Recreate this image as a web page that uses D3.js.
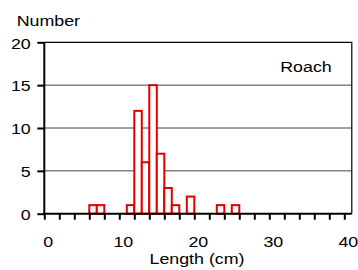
<!DOCTYPE html>
<html>
<head>
<meta charset="utf-8">
<script src="https://cdn.jsdelivr.net/npm/d3@7"></script>
<style>
  body { margin: 0; background: #fff; }
  text { font-family: "Liberation Sans", Arial, sans-serif; font-size: 15.5px; fill: #000; }
</style>
</head>
<body>
<div id="chart"></div>
<script>
// histogram data (1 cm bins, left edge of bin)
const binStarts = [6, 7, 11, 12, 13, 14, 15, 16, 17, 19, 23, 25];
const counts = [1, 1, 1, 12, 6, 15, 7, 3, 1, 2, 1, 1];
const xTickValues = [0, 2, 4, 6, 8, 10, 12, 14, 16, 18, 20, 22, 24, 26, 28, 30, 32, 34, 36, 38, 40];
const xLabelValues = [0, 10, 20, 30, 40];
const yTickValues = [0, 5, 10, 15, 20];
const gridValues = [5, 10, 15];

const W = 358, H = 270;
const sx = 1.15; // the original text is a little wide

const svg = d3.select("#chart").append("svg")
    .attr("width", W)
    .attr("height", H);

const x = d3.scaleLinear().domain([0, 41]).range([44.3, 351.8]);
const y = d3.scaleLinear().domain([0, 20]).range([213.7, 42.3]);

// gridlines
svg.append("g")
    .selectAll("line")
    .data(gridValues)
    .join("line")
    .attr("x1", x(0))
    .attr("x2", x(41))
    .attr("y1", d => y(d))
    .attr("y2", d => y(d))
    .attr("stroke", "#444")
    .attr("stroke-width", 1);

// top and right frame
svg.append("path")
    .attr("d", `M${x(0)},${y(20)}H${x(41)}V${y(0)}`)
    .attr("fill", "none")
    .attr("stroke", "#000")
    .attr("stroke-width", 1.2);

// bars
svg.append("g")
    .selectAll("rect")
    .data(binStarts)
    .join("rect")
    .attr("x", d => x(d))
    .attr("width", d => x(d + 1) - x(d))
    .attr("y", (d, i) => y(counts[i]))
    .attr("height", (d, i) => y(0) - y(counts[i]))
    .attr("fill", "#fff")
    .attr("stroke", "#e00000")
    .attr("stroke-width", 2);

// x axis
const xAxis = svg.append("g")
    .attr("transform", `translate(0, ${y(0)})`)
    .call(d3.axisBottom(x)
        .tickValues(xTickValues)
        .tickSize(6)
        .tickFormat(d => xLabelValues.includes(d) ? d : ""));
xAxis.select(".domain")
    .attr("d", `M${x(0) - 1},0H${x(41)}`)
    .attr("stroke-width", 2);
xAxis.selectAll(".tick line").attr("stroke-width", 2);
xAxis.selectAll(".tick text")
    .attr("y", 0)
    .attr("dy", 0)
    .attr("transform", `translate(3.5, 33) scale(${sx},1)`)
    .style("font-size", "15.5px")
    .style("font-family", "Liberation Sans, Arial, sans-serif");

// y axis
const yAxis = svg.append("g")
    .attr("transform", `translate(${x(0)}, 0)`)
    .call(d3.axisLeft(y)
        .tickValues(yTickValues)
        .tickSize(7));
yAxis.select(".domain")
    .attr("d", `M0,${y(20)}V${y(0) + 1}`)
    .attr("stroke-width", 2);
yAxis.selectAll(".tick line").attr("stroke-width", 2);
yAxis.selectAll(".tick text")
    .attr("x", 0)
    .attr("dy", "0.37em")
    .attr("transform", `translate(-13.6, 0) scale(${sx},1)`)
    .style("font-size", "15.5px")
    .style("font-family", "Liberation Sans, Arial, sans-serif");

// titles
svg.append("text")
    .attr("transform", `translate(16.7, 26) scale(${sx},1)`)
    .text("Number");

svg.append("text")
    .attr("transform", `translate(331.7, 71.7) scale(${sx},1)`)
    .attr("text-anchor", "end")
    .text("Roach");

svg.append("text")
    .attr("transform", `translate(197, 264) scale(${sx},1)`)
    .attr("text-anchor", "middle")
    .text("Length (cm)");
</script>
</body>
</html>
